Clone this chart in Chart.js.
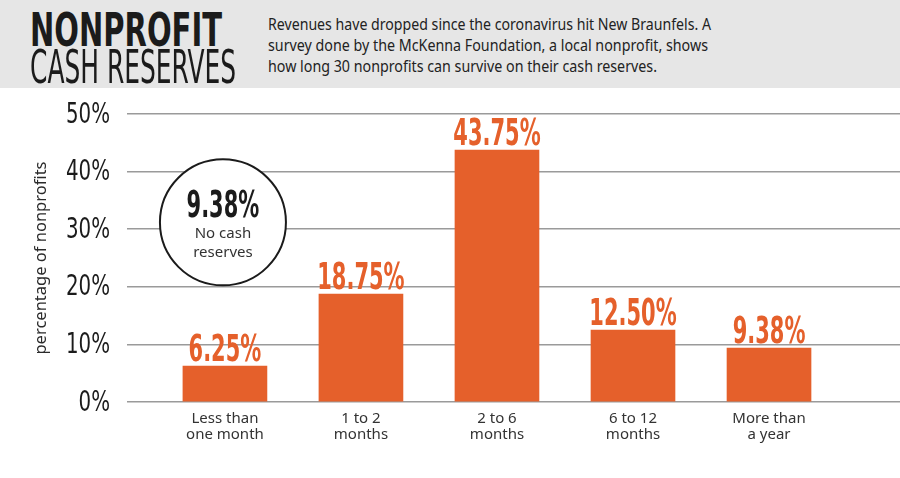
<!DOCTYPE html>
<html>
<head>
<meta charset="utf-8">
<script src="https://cdn.jsdelivr.net/npm/chart.js@4.4.1/dist/chart.umd.min.js"></script>
<style>
  html, body { margin: 0; padding: 0; background: #fff; }
  #wrap { position: relative; width: 900px; height: 478px; overflow: hidden; }
  #head { position: absolute; left: 0; top: 0; width: 900px; height: 88px; background: #e6e6e6; z-index: 2; }
  .fit { position: absolute; white-space: nowrap; transform-origin: 0 0; line-height: 1; color: #1b1b1b; }
  #t1 { left: 30px; top: 3px; font: bold 46px 'DejaVu Sans Condensed', sans-serif; }
  #t2 { left: 30px; top: 40px; font: 46px 'DejaVu Sans Condensed', sans-serif; }
  .dek { left: 268px; font: 17px 'Noto Sans', sans-serif; color: #222; }
  #chart { position: absolute; left: 0; top: 0; z-index: 1; }
</style>
</head>
<body>
<div id="wrap">
  <div id="head">
    <div class="fit" id="t1" data-w="192">NONPROFIT</div>
    <div class="fit" id="t2" data-w="206">CASH RESERVES</div>
    <div class="fit dek" style="top:12px" data-w="443">Revenues have dropped since the coronavirus hit New Braunfels. A</div>
    <div class="fit dek" style="top:33px" data-w="440">survey done by the McKenna Foundation, a local nonprofit, shows</div>
    <div class="fit dek" style="top:54px" data-w="389">how long 30 nonprofits can survive on their cash reserves.</div>
  </div>
  <canvas id="chart" width="900" height="478"></canvas>
</div>
<script>
const categories = [['Less than', 'one month'], ['1 to 2', 'months'], ['2 to 6', 'months'], ['6 to 12', 'months'], ['More than', 'a year']];
const shares = [6.25, 18.75, 43.75, 12.50, 9.38];
const yTicks = [0, 10, 20, 30, 40, 50];
const noReserves = 9.38;

const ORANGE = '#e5602b';
const NARROW = "'DejaVu Sans Condensed', sans-serif";

// squeeze header lines to the widths in the print graphic
document.querySelectorAll('.fit').forEach(el => {
  const w = el.getBoundingClientRect().width;
  el.style.transform = 'scaleX(' + (el.dataset.w / w) + ')';
});

function squeeze(ctx, text, x, y, sx) {
  ctx.save();
  ctx.translate(x, y);
  ctx.scale(sx, 1);
  ctx.fillText(text, 0, 0);
  ctx.restore();
}

const decor = {
  id: 'decor',
  afterDatasetsDraw(chart) {
    const ctx = chart.ctx;
    const xs = chart.scales.x, ys = chart.scales.y;
    ctx.save();
    // y tick labels, in a narrower face than canvas can do natively
    ctx.textAlign = 'right';
    ctx.textBaseline = 'middle';
    ctx.fillStyle = '#1b1b1b';
    ctx.font = '29px ' + NARROW;
    yTicks.forEach(v => {
      squeeze(ctx, v + '%', 110, ys.getPixelForValue(v) + 1, 0.76);
    });
    // value labels on top of bars
    ctx.textAlign = 'center';
    ctx.textBaseline = 'alphabetic';
    ctx.fillStyle = ORANGE;
    ctx.font = 'bold 37px ' + NARROW;
    chart.getDatasetMeta(0).data.forEach((bar, i) => {
      squeeze(ctx, shares[i].toFixed(2) + '%', bar.x, bar.y - 5, 0.63);
    });
    // "no cash reserves" callout
    const cx = xs.getPixelForValue(0) - 2, cy = ys.getPixelForValue(31.2);
    ctx.beginPath();
    ctx.arc(cx, cy, 63, 0, Math.PI * 2);
    ctx.fillStyle = '#fff';
    ctx.fill();
    ctx.lineWidth = 2;
    ctx.strokeStyle = '#1b1b1b';
    ctx.stroke();
    ctx.fillStyle = '#1b1b1b';
    ctx.font = 'bold 37px ' + NARROW;
    squeeze(ctx, noReserves.toFixed(2) + '%', cx, cy - 5, 0.63);
    ctx.fillStyle = '#333';
    ctx.font = '15px "Noto Sans", sans-serif';
    ctx.fillText('No cash', cx, cy + 16);
    ctx.fillText('reserves', cx, cy + 35);
    ctx.restore();
  }
};

new Chart(document.getElementById('chart'), {
  type: 'bar',
  data: {
    datasets: [{
      data: shares.map((v, i) => ({ x: i, y: v })),
      backgroundColor: ORANGE,
      barThickness: 84
    }]
  },
  options: {
    responsive: false,
    animation: false,
    layout: { padding: { top: 114, left: 0, right: 0, bottom: 0 } },
    plugins: { legend: { display: false }, tooltip: { enabled: false } },
    scales: {
      x: {
        type: 'linear',
        offset: false,
        min: -0.72,
        max: 4.963,
        grid: { display: false },
        border: { display: false },
        ticks: {
          stepSize: 1,
          includeBounds: false,
          autoSkip: false,
          maxRotation: 0,
          padding: 0,
          color: '#333',
          font: { family: 'Noto Sans', size: 15, lineHeight: 1.1 },
          callback: v => categories[v] || ''
        },
        afterFit: s => { s.height = 76; }
      },
      y: {
        min: 0,
        max: 50,
        grid: { color: '#9a9a9a', lineWidth: 1.5, drawTicks: false },
        border: { display: false },
        afterBuildTicks: s => { s.ticks = yTicks.map(v => ({ value: v })); },
        ticks: { display: false },
        title: {
          display: true,
          text: 'percentage of nonprofits',
          color: '#2a2a2a',
          font: { family: 'Noto Sans', size: 16.5 },
          padding: { top: 31, bottom: 0 }
        },
        afterFit: s => { s.width = 127; }
      }
    }
  },
  plugins: [decor]
});
</script>
</body>
</html>
